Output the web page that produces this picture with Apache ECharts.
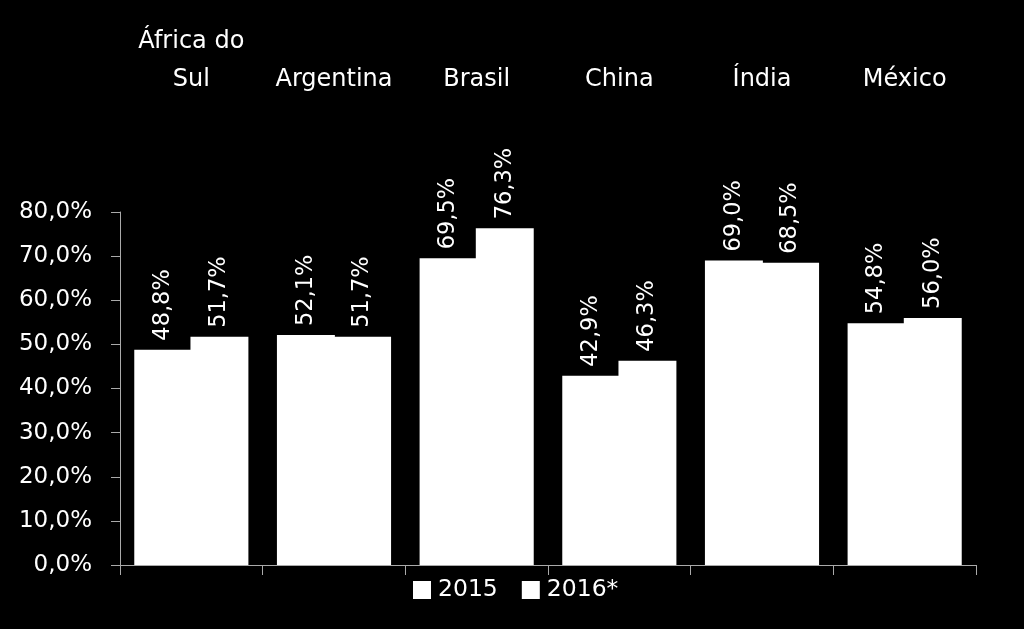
<!DOCTYPE html>
<html><head><meta charset="utf-8">
<style>html,body{margin:0;padding:0;background:#000}#c{width:1024px;height:629px}</style>
<script src="https://cdn.jsdelivr.net/npm/echarts@6/dist/echarts.min.js"></script>
</head><body><div id="c"></div>
<script>
var categories = ['África do\nSul', 'Argentina', 'Brasil', 'China', 'Índia', 'México'];
var values2015 = [48.8, 52.1, 69.5, 42.9, 69.0, 54.8];
var values2016 = [51.7, 51.7, 76.3, 46.3, 68.5, 56.0];
var seriesNames = ['2015', '2016*'];

var FONT = 'DejaVu Sans';
function pct(v){ return v.toFixed(1).replace('.', ',') + '%'; }
var barLabel = {
  show: true, position: 'top', rotate: 90, align: 'left', verticalAlign: 'middle',
  distance: 9, color: '#fff', fontFamily: FONT, fontSize: 22.5,
  formatter: function(p){ return pct(p.value); }
};
var chart = echarts.init(document.getElementById('c'));
chart.setOption({
  backgroundColor: '#000',
  animation: false,
  grid: { left: 120, right: 48, top: 212, bottom: 64 },
  legend: {
    bottom: 22, left: 408, itemWidth: 18, itemHeight: 18, itemGap: 24,
    icon: 'rect',
    textStyle: { color: '#fff', fontFamily: FONT, fontSize: 23.5, padding: [0, 0, 0, 2] },
    data: seriesNames
  },
  xAxis: [{
    type: 'category', position: 'bottom', data: categories,
    axisLine: { lineStyle: { color: '#aaa', width: 1 } },
    axisTick: { show: true, length: 10, lineStyle: { color: '#aaa' } },
    axisLabel: { show: false }
  }, {
    type: 'category', position: 'top', data: categories,
    axisLine: { show: false }, axisTick: { show: false },
    axisLabel: { show: true, interval: 0, margin: 113, color: '#fff', fontFamily: FONT, fontSize: 24, lineHeight: 38 }
  }],
  yAxis: {
    type: 'value', min: 0, max: 80, interval: 10,
    splitLine: { show: false },
    axisLine: { show: true, lineStyle: { color: '#aaa', width: 1 } },
    axisTick: { show: true, inside: false, length: 9, lineStyle: { color: '#aaa' } },
    axisLabel: { color: '#fff', fontFamily: FONT, fontSize: 23, margin: 28,
      formatter: function(v){ return pct(v); } }
  },
  series: [{
    name: seriesNames[0], type: 'bar', data: values2015, xAxisIndex: 0,
    barGap: '-3%', barCategoryGap: '20%',
    itemStyle: { color: '#fff' }, label: barLabel
  }, {
    name: seriesNames[1], type: 'bar', data: values2016, xAxisIndex: 0,
    barGap: '-3%', barCategoryGap: '20%',
    itemStyle: { color: '#fff' }, label: barLabel
  }]
});
</script></body></html>
